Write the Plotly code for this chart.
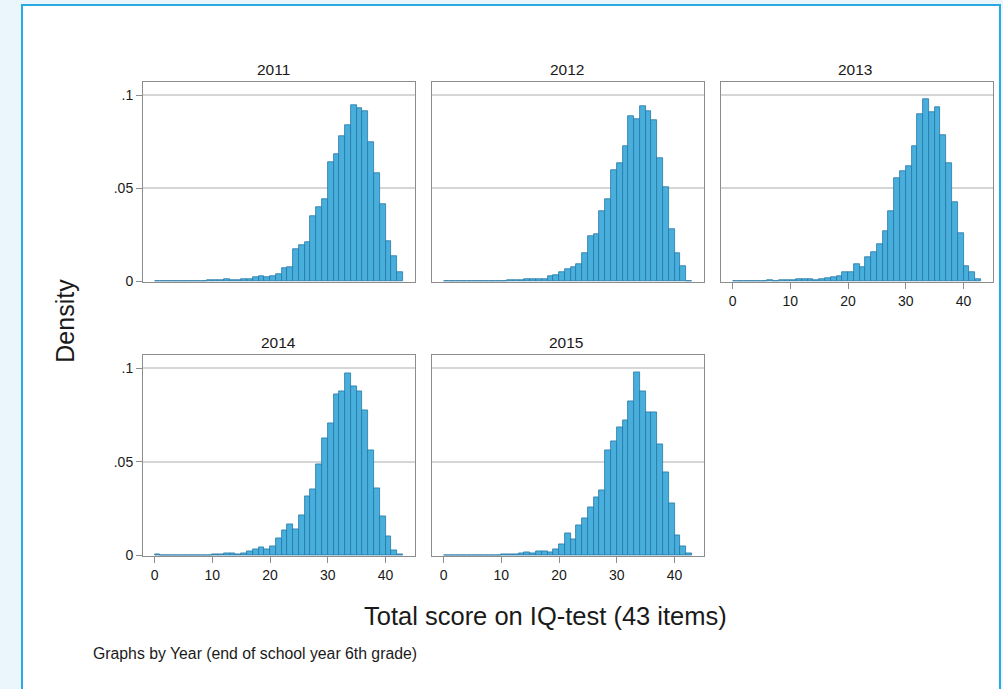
import plotly.graph_objects as go

# Histogram densities of the total IQ-test score (bins of width 1, 0..43)
years = ["2011", "2012", "2013", "2014", "2015"]
bin_left = list(range(43))

dens_2011 = [0.0001, 0.0001, 0.0001, 0.0001, 0.0001, 0.0002, 0.0001, 0.0002, 0.0002, 0.0003,
             0.0004, 0.0005, 0.0009, 0.0005, 0.0006, 0.0009, 0.0013, 0.0022, 0.0027, 0.0021,
             0.0026, 0.0037, 0.0068, 0.0078, 0.0172, 0.0192, 0.0207, 0.0350, 0.0398, 0.0438,
             0.0642, 0.0680, 0.0780, 0.0837, 0.0947, 0.0929, 0.0911, 0.0748, 0.0580, 0.0415,
             0.0216, 0.0137, 0.0046]
dens_2012 = [0.0001, 0.0001, 0.0001, 0.0001, 0.0001, 0.0001, 0.0002, 0.0001, 0.0002, 0.0002,
             0.0002, 0.0003, 0.0005, 0.0007, 0.0009, 0.0010, 0.0010, 0.0012, 0.0025, 0.0034,
             0.0048, 0.0066, 0.0074, 0.0092, 0.0151, 0.0243, 0.0250, 0.0374, 0.0438, 0.0598,
             0.0635, 0.0725, 0.0887, 0.0872, 0.0940, 0.0911, 0.0863, 0.0660, 0.0505, 0.0278,
             0.0152, 0.0082, 0.0000]
dens_2013 = [0.0002, 0.0001, 0.0002, 0.0001, 0.0002, 0.0002, 0.0003, 0.0002, 0.0003, 0.0003,
             0.0006, 0.0009, 0.0009, 0.0011, 0.0008, 0.0009, 0.0018, 0.0021, 0.0025, 0.0047,
             0.0049, 0.0092, 0.0078, 0.0128, 0.0156, 0.0197, 0.0270, 0.0374, 0.0551, 0.0589,
             0.0620, 0.0724, 0.0897, 0.0978, 0.0906, 0.0935, 0.0782, 0.0632, 0.0422, 0.0257,
             0.0082, 0.0046, 0.0011]
dens_2014 = [0.0003, 0.0002, 0.0002, 0.0002, 0.0002, 0.0002, 0.0001, 0.0002, 0.0002, 0.0002,
             0.0005, 0.0008, 0.0012, 0.0010, 0.0008, 0.0009, 0.0021, 0.0030, 0.0043, 0.0030,
             0.0050, 0.0090, 0.0135, 0.0165, 0.0137, 0.0212, 0.0316, 0.0355, 0.0485, 0.0624,
             0.0704, 0.0860, 0.0874, 0.0972, 0.0902, 0.0875, 0.0775, 0.0561, 0.0357, 0.0206,
             0.0100, 0.0026, 0.0005]
dens_2015 = [0.0002, 0.0002, 0.0001, 0.0002, 0.0002, 0.0002, 0.0002, 0.0002, 0.0002, 0.0002,
             0.0003, 0.0005, 0.0007, 0.0010, 0.0016, 0.0012, 0.0020, 0.0021, 0.0018, 0.0030,
             0.0058, 0.0117, 0.0088, 0.0160, 0.0199, 0.0255, 0.0308, 0.0348, 0.0560, 0.0610,
             0.0686, 0.0722, 0.0823, 0.0979, 0.0877, 0.0764, 0.0764, 0.0594, 0.0446, 0.0277,
             0.0108, 0.0050, 0.0012]

densities = [dens_2011, dens_2012, dens_2013, dens_2014, dens_2015]

x_ticks = [0, 10, 20, 30, 40]
y_ticks = [0, 0.05, 0.1]
y_tick_text = ["0", ".05", ".1"]

W, H = 1003, 689
FONT = "Liberation Sans, Arial, sans-serif"
TEXT = "#1a1a1a"
BAR_FILL = "rgb(72,175,221)"
BAR_EDGE = "rgb(38,118,165)"
FRAME = "rgb(140,140,140)"
GRID = "rgb(214,214,214)"


def px(x):
    return x / W


def py(y):
    return 1 - y / H


# panel frames in pixels: columns (left, right) and rows (top, bottom)
cols = [(143, 415), (432, 704), (721, 993)]
rows = [(83, 285), (359, 562)]
# (column, row, y labels shown, x labels shown, title centre x)
panel_pos = [(0, 0, True, False, 273), (1, 0, False, False, 567), (2, 0, False, True, 855),
             (0, 1, True, True, 278), (1, 1, False, True, 566)]

fig = go.Figure()
layout = {}
annotations = []

for i, (year, dens, (c, r, show_y, show_x, tx)) in enumerate(zip(years, densities, panel_pos)):
    n = "" if i == 0 else str(i + 1)
    fig.add_trace(go.Bar(
        x=[b + 0.5 for b in bin_left], y=dens, width=1,
        marker=dict(color=BAR_FILL, line=dict(color=BAR_EDGE, width=0.8)),
        xaxis="x" + n, yaxis="y" + n, showlegend=False, hoverinfo="skip",
    ))
    x0, x1 = cols[c]
    y0, y1 = rows[r]
    layout["xaxis" + n] = dict(
        domain=[px(x0), px(x1)], anchor="y" + n, range=[-2.0, 45.1],
        showgrid=False, zeroline=False, showline=True, mirror=True,
        linecolor=FRAME, linewidth=1,
        tickmode="array", tickvals=x_ticks, ticktext=[str(v) for v in x_ticks],
        ticks="outside" if show_x else "", ticklen=6, tickcolor=FRAME,
        showticklabels=show_x,
        tickfont=dict(family=FONT, size=14, color=TEXT),
        fixedrange=True,
    )
    layout["yaxis" + n] = dict(
        domain=[py(y1), py(y0)], anchor="x" + n, range=[-0.0005, 0.1069],
        showgrid=True, gridcolor=GRID, gridwidth=1.5, zeroline=False,
        showline=True, mirror=True, linecolor=FRAME, linewidth=1,
        tickmode="array", tickvals=y_ticks, ticktext=y_tick_text,
        ticks="outside" if show_y else "", ticklen=6, tickcolor=FRAME,
        showticklabels=show_y,
        tickfont=dict(family=FONT, size=14, color=TEXT),
        fixedrange=True,
    )
    annotations.append(dict(
        text=year, x=px(tx), y=py(y0 - 13), xref="paper", yref="paper",
        xanchor="center", yanchor="middle", showarrow=False,
        font=dict(family=FONT, size=15.5, color=TEXT),
    ))

annotations += [
    dict(text="Density", x=px(65), y=py(324), xref="paper", yref="paper",
         textangle=-90, xanchor="center", yanchor="middle", showarrow=False,
         font=dict(family=FONT, size=25, color=TEXT)),
    dict(text="Total score on IQ-test (43 items)", x=px(545), y=py(622),
         xref="paper", yref="paper", xanchor="center", yanchor="middle",
         showarrow=False, font=dict(family=FONT, size=25.5, color=TEXT)),
    dict(text="Graphs by Year (end of school year 6th grade)", x=px(91), y=py(660),
         xref="paper", yref="paper", xanchor="left", yanchor="middle",
         showarrow=False, font=dict(family=FONT, size=15.8, color=TEXT)),
]

shapes = [
    dict(type="rect", xref="paper", yref="paper",
         x0=px(22), x1=px(1000), y0=py(720), y1=py(5),
         fillcolor="white", line=dict(color="rgb(40,170,225)", width=2), layer="below"),
]

fig.update_layout(
    width=W, height=H, margin=dict(l=0, r=0, t=0, b=0),
    paper_bgcolor="rgb(234,245,252)", plot_bgcolor="white",
    bargap=0, annotations=annotations, shapes=shapes,
    **layout,
)

fig.write_html("out.html")
